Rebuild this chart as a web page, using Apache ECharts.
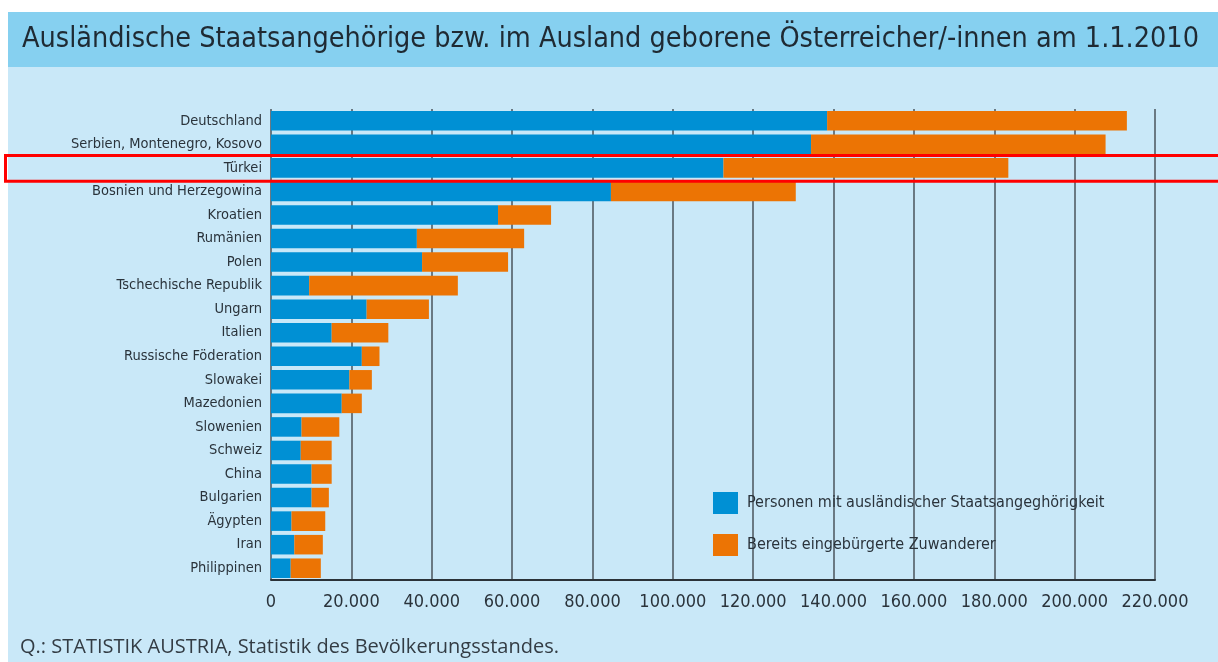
<!DOCTYPE html>
<html>
<head>
<meta charset="utf-8">
<script src="https://cdn.jsdelivr.net/npm/echarts@6/dist/echarts.min.js"></script>
<style>
  html, body { margin: 0; padding: 0; background: #fff; }
  #chart { width: 1218px; height: 662px; }
</style>
</head>
<body>
<div id="chart"></div>
<script>
const laender = [
    'Deutschland', 'Serbien, Montenegro, Kosovo', 'Türkei', 'Bosnien und Herzegowina',
    'Kroatien', 'Rumänien', 'Polen', 'Tschechische Republik', 'Ungarn', 'Italien',
    'Russische Föderation', 'Slowakei', 'Mazedonien', 'Slowenien', 'Schweiz',
    'China', 'Bulgarien', 'Ägypten', 'Iran', 'Philippinen'
];
const auslaender = [138400, 134400, 112600, 84600, 56500, 36300, 37600, 9500, 23800, 15100,
    22600, 19500, 17600, 7600, 7400, 10100, 10100, 5100, 5800, 4900];
const eingebuergert = [74600, 73300, 70900, 46000, 13200, 26700, 21400, 37000, 15500, 14100,
    4400, 5600, 5000, 9400, 7700, 5000, 4300, 8400, 7100, 7500];
const tickLabels = ['0', '20.000', '40.000', '60.000', '80.000', '100.000', '120.000',
    '140.000', '160.000', '180.000', '200.000', '220.000'];
const markiert = 'Türkei';

const condensed = '"Liberation Sans Narrow", "DejaVu Sans Condensed", sans-serif';

const chart = echarts.init(document.getElementById('chart'));

const option = {
    backgroundColor: '#ffffff',
    animation: false,
    graphic: [
        { type: 'rect', z: -10, shape: { x: 8, y: 12, width: 1210, height: 650 }, style: { fill: '#c9e8f8' } },
        { type: 'rect', z: -9, shape: { x: 8, y: 12, width: 1210, height: 55 }, style: { fill: '#86d0f0' } },
        {
            type: 'text', left: 22, top: 25,
            style: {
                text: 'Ausländische Staatsangehörige bzw. im Ausland geborene Österreicher/-innen am 1.1.2010',
                fill: '#1f2a33', font: '28.5px "DejaVu Sans Condensed", sans-serif'
            }
        },
        {
            type: 'text', left: 20, top: 637,
            style: {
                text: 'Q.: STATISTIK AUSTRIA, Statistik des Bevölkerungsstandes.',
                fill: '#333c44', font: '20px "Open Sans", sans-serif'
            }
        }
    ],
    legend: {
        orient: 'vertical',
        left: 708,
        top: 487,
        itemWidth: 25,
        itemHeight: 22,
        itemGap: 20,
        icon: 'rect',
        textStyle: { fontFamily: condensed, fontSize: 16, color: '#2a333b', padding: [0, 0, 0, 4] },
        data: ['Personen mit ausländischer Staatsangeghörigkeit', 'Bereits eingebürgerte Zuwanderer']
    },
    grid: { left: 271, right: 63, top: 109, bottom: 82, containLabel: false },
    xAxis: {
        type: 'value',
        min: 0,
        max: 220000,
        interval: 20000,
        axisLine: { show: true, lineStyle: { color: '#2b3238', width: 2 } },
        axisTick: { show: false },
        splitLine: { show: true, lineStyle: { color: '#4a545c', width: 1.5 } },
        axisLabel: {
            margin: 13,
            fontFamily: condensed,
            fontSize: 18,
            color: '#2a333b',
            formatter: v => tickLabels[Math.round(v / 20000)]
        }
    },
    yAxis: {
        type: 'category',
        inverse: true,
        data: laender,
        axisLine: { show: false },
        axisTick: { show: false },
        axisLabel: { margin: 9, fontFamily: condensed, fontSize: 14.5, color: '#2a333b' }
    },
    series: [
        {
            name: 'Personen mit ausländischer Staatsangeghörigkeit',
            type: 'bar',
            stack: 'gesamt',
            barCategoryGap: '17%',
            itemStyle: { color: '#0090d4' },
            data: auslaender
        },
        {
            name: 'Bereits eingebürgerte Zuwanderer',
            type: 'bar',
            stack: 'gesamt',
            barCategoryGap: '17%',
            itemStyle: { color: '#ec7404' },
            data: eingebuergert
        }
    ]
};

chart.setOption(option);

// red highlight box round the marked row
const yMitte = chart.convertToPixel({ yAxisIndex: 0 }, markiert);
const band = 471 / laender.length;
chart.setOption({
    graphic: option.graphic.concat([{
        type: 'rect', z: 100,
        shape: { x: 5.5, y: yMitte - band / 2 - 0.5, width: 1230, height: band + 2 },
        style: { fill: 'none', stroke: '#ff0000', lineWidth: 3 }
    }])
});

window.addEventListener('resize', () => chart.resize());
</script>
</body>
</html>
